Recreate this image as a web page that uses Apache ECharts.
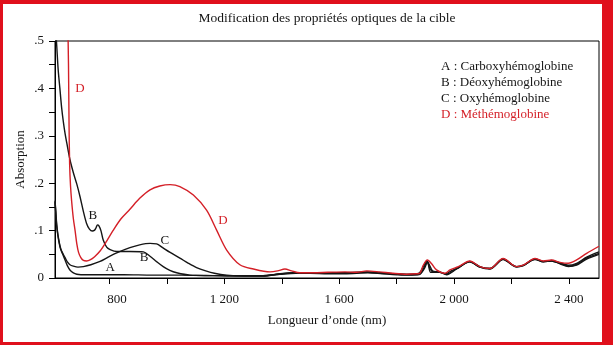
<!DOCTYPE html>
<html>
<head>
<meta charset="utf-8">
<script src="https://cdn.jsdelivr.net/npm/echarts@6/dist/echarts.min.js"></script>
<style>
html,body{margin:0;padding:0;background:#fff;}
#c{position:absolute;left:0;top:0;width:613px;height:345px;}
#frame{position:absolute;left:0;top:0;width:613px;height:345px;box-sizing:border-box;border-style:solid;border-color:#e0101c;border-width:4px 11px 3px 3px;pointer-events:none;}
</style>
</head>
<body>
<div id="c"></div>
<div id="frame"></div>
<script>
// ---- data ----
const titleText = 'Modification des propriétés optiques de la cible';
const xName = 'Longueur d\u2019onde (nm)';
const yName = 'Absorption';
const xTickValues = [800, 1000, 1200, 1400, 1600, 1800, 2000, 2200, 2400];
const xLabelValues = [800, 1200, 1600, 2000, 2400];
const xTickLabels = ['800', '1 200', '1 600', '2 000', '2 400'];
const yLabelValues = [0, 0.1, 0.2, 0.3, 0.4, 0.5];
const yTickLabels = ['0', '.1', '.2', '.3', '.4', '.5'];
const legendNames = ['A : Carboxyhémoglobine', 'B : Déoxyhémoglobine', 'C : Oxyhémoglobine', 'D : Méthémoglobine'];

// A : Carboxyhémoglobine
const wlA = [610,613,616,620,625,630,637,645,653,662,674,686,700,750,850,950,1050,1150,1250,1335,1394,1448,1500,1560,1620,1700,1750,1800,1840,1878,1895,1908,1918,1935,1950,1974,2009,2055,2090,2125,2171,2218,2241,2282,2311,2340,2369,2398,2427,2462,2505];
const absA = [0.160,0.135,0.110,0.090,0.072,0.060,0.050,0.038,0.026,0.017,0.011,0.008,0.007,0.007,0.007,0.006,0.006,0.005,0.005,0.005,0.008,0.010,0.010,0.009,0.009,0.011,0.009,0.007,0.006,0.007,0.018,0.034,0.012,0.012,0.013,0.007,0.019,0.034,0.023,0.019,0.039,0.023,0.026,0.039,0.034,0.036,0.030,0.024,0.027,0.040,0.050];

// B : Déoxyhémoglobine
const wlB = [610,615,621,627,633,639,645,651,662,674,686,697,709,720,730,740,748,753,758,763,770,778,790,802,825,870,918,941,965,987,1010,1034,1080,1160,1260,1332,1390,1448,1500,1560,1620,1700,1750,1800,1840,1878,1893,1905,1914,1925,1945,1970,1990,2015,2055,2090,2125,2171,2218,2241,2282,2311,2340,2369,2398,2427,2462,2505];
const absB = [0.540,0.500,0.440,0.400,0.360,0.330,0.305,0.285,0.250,0.222,0.198,0.172,0.140,0.115,0.103,0.099,0.101,0.106,0.112,0.110,0.100,0.080,0.065,0.060,0.056,0.056,0.055,0.046,0.034,0.024,0.016,0.011,0.006,0.005,0.004,0.004,0.008,0.011,0.011,0.011,0.011,0.013,0.011,0.009,0.008,0.010,0.024,0.036,0.028,0.015,0.013,0.009,0.015,0.022,0.035,0.024,0.020,0.040,0.024,0.027,0.040,0.035,0.037,0.032,0.027,0.031,0.044,0.055];

// C : Oxyhémoglobine
const wlC = [610,613,616,620,625,630,637,645,653,662,674,690,709,735,767,795,825,871,905,941,964,985,1011,1045,1075,1103,1135,1165,1208,1270,1335,1394,1448,1500,1560,1620,1700,1750,1800,1840,1878,1894,1906,1916,1930,1950,1974,2009,2055,2090,2125,2171,2218,2241,2282,2311,2340,2369,2398,2427,2462,2505];
const absC = [0.163,0.140,0.112,0.092,0.075,0.062,0.052,0.043,0.034,0.028,0.025,0.023,0.024,0.028,0.035,0.044,0.053,0.064,0.070,0.073,0.072,0.064,0.054,0.042,0.031,0.022,0.015,0.010,0.006,0.004,0.004,0.009,0.011,0.010,0.010,0.010,0.012,0.010,0.008,0.007,0.008,0.020,0.035,0.020,0.012,0.012,0.008,0.020,0.034,0.023,0.020,0.040,0.024,0.026,0.040,0.034,0.036,0.031,0.025,0.029,0.042,0.052];

// D : Méthémoglobine
const wlD = [654,657,659,661,664,668,674,680,686,692,700,709,720,732,748,767,790,812,840,871,905,941,975,1011,1045,1092,1138,1173,1208,1254,1301,1359,1385,1411,1434,1463,1509,1560,1620,1660,1696,1740,1787,1835,1870,1881,1893,1907,1922,1939,1968,1986,2015,2055,2090,2125,2171,2218,2241,2282,2311,2340,2369,2398,2427,2462,2505];
const absD = [0.560,0.450,0.320,0.240,0.195,0.162,0.125,0.100,0.072,0.054,0.043,0.037,0.036,0.038,0.045,0.057,0.078,0.100,0.125,0.145,0.168,0.186,0.194,0.197,0.193,0.175,0.143,0.101,0.059,0.028,0.019,0.013,0.015,0.019,0.015,0.011,0.011,0.012,0.013,0.012,0.015,0.013,0.010,0.008,0.009,0.010,0.027,0.038,0.030,0.017,0.010,0.017,0.024,0.036,0.024,0.020,0.041,0.024,0.027,0.041,0.036,0.038,0.033,0.031,0.038,0.052,0.067];

// curve annotations: [text, wavelength, absorbance, series index]
const annText = ['D', 'B', 'A', 'B', 'C', 'D'];
const annWl = [697, 742, 802, 920, 993, 1195];
const annAbs = [0.399, 0.131, 0.021, 0.044, 0.080, 0.122];
const annSeries = [3, 1, 0, 1, 2, 3];

// ---- styles ----
const BLACK = '#151515';
const RED = '#d41f27';
const FONT = '"Liberation Serif", "DejaVu Serif", serif';
const colors = [BLACK, BLACK, BLACK, RED];

const pairs = (xs, ys) => xs.map((x, i) => [x, ys[i]]);
const seriesData = [pairs(wlA, absA), pairs(wlB, absB), pairs(wlC, absC), pairs(wlD, absD)];

const series = seriesData.map((d, si) => {
  const marks = [];
  annText.forEach((t, k) => {
    if (annSeries[k] === si) {
      marks.push({
        coord: [annWl[k], annAbs[k]],
        label: { show: true, formatter: t, color: colors[si], fontFamily: FONT, fontSize: 13, position: 'inside' }
      });
    }
  });
  return {
    name: legendNames[si],
    type: 'line',
    data: d,
    showSymbol: false,
    symbol: 'none',
    smooth: 0.3,
    clip: true,
    z: si === 3 ? 3 : 2,
    lineStyle: { color: colors[si], width: 1.4 },
    markPoint: {
      symbol: 'circle', symbolSize: 0, silent: true, animation: false,
      itemStyle: { color: 'transparent' },
      data: marks
    }
  };
});

const chart = echarts.init(document.getElementById('c'), null, { renderer: 'canvas' });
chart.setOption({
  animation: false,
  backgroundColor: '#ffffff',
  grid: { left: 55, right: 14, top: 41, bottom: 67, show: true, borderColor: '#000', borderWidth: 1, backgroundColor: 'transparent' },
  xAxis: {
    type: 'value', min: 610, max: 2505,
    name: xName, nameLocation: 'middle', nameGap: 36, nameMoveOverlap: false,
    nameTextStyle: { fontFamily: FONT, fontSize: 13, color: BLACK },
    axisLine: { show: true, lineStyle: { color: '#000', width: 1 } },
    axisTick: { show: true, length: 6, customValues: xTickValues, lineStyle: { color: '#000' } },
    axisLabel: {
      customValues: xLabelValues, margin: 15,
      fontFamily: FONT, fontSize: 13, color: BLACK,
      formatter: v => {
        const i = xLabelValues.indexOf(v);
        if (i < 0) return '';
        return i === 0 ? '{p|' + xTickLabels[i] + '}' : xTickLabels[i];
      },
      rich: { p: { padding: [0, 0, 0, 15], fontFamily: FONT, fontSize: 13, color: BLACK } }
    },
    splitLine: { show: false }
  },
  yAxis: {
    type: 'value', min: 0, max: 0.5, interval: 0.05,
    name: yName, nameLocation: 'middle', nameGap: 28, nameRotate: 90, nameMoveOverlap: false,
    nameTextStyle: { fontFamily: FONT, fontSize: 13, color: BLACK },
    axisLine: { show: true, lineStyle: { color: '#000', width: 1 } },
    axisTick: { show: true, length: 6, lineStyle: { color: '#000' } },
    axisLabel: {
      margin: 11, fontFamily: FONT, fontSize: 13, color: BLACK,
      formatter: v => {
        const i = yLabelValues.findIndex(y => Math.abs(y - v) < 1e-6);
        return i < 0 ? '' : yTickLabels[i];
      }
    },
    splitLine: { show: false }
  },
  graphic: [
    { type: 'text', x: 327, y: 18, style: { text: titleText, fill: BLACK, font: '13.5px ' + FONT, textAlign: 'center', textVerticalAlign: 'middle' } }
  ].concat(legendNames.map((n, i) => ({
    type: 'text', x: 441, y: 67 + i * 16,
    style: { text: n, fill: colors[i], font: '13px ' + FONT, textAlign: 'left', textVerticalAlign: 'middle' }
  }))),
  series: series
});
</script>
</body>
</html>
